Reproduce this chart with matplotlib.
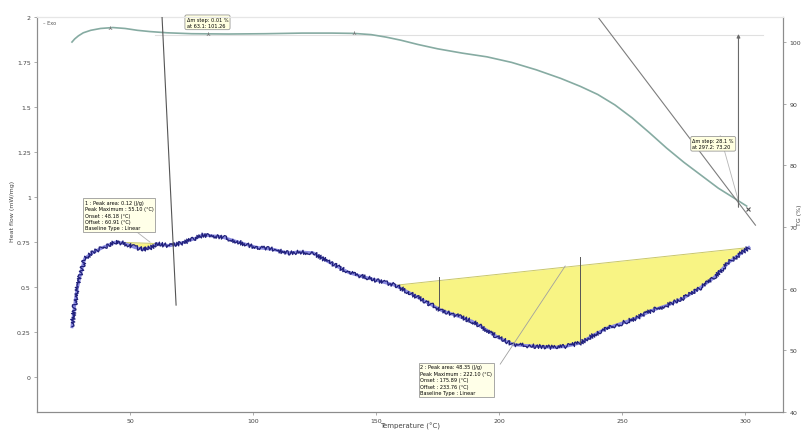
import numpy as np
import matplotlib
matplotlib.use("Agg")
import matplotlib.pyplot as plt

# DSC heat flow (left axis)
dsc_temp = [26.4, 27.5, 28.5, 30.0, 31.6, 34.6, 38.9, 44.1, 47.0, 49.2, 52.0, 55.6,
            58.5, 61.0, 66.0, 71.0, 76.4, 79.6, 83.0, 87.0, 94.0, 101.5, 108.0,
            114.0, 119.0, 124.4, 130.7, 139.0, 144.0, 149.6, 157.7, 166.0, 176.6,
            183.0, 189.0, 195.0, 199.6, 205.8, 211.0, 216.0, 222.0, 226.8, 233.0,
            238.0, 243.4, 250.0, 256.0, 262.0, 268.5, 275.0, 281.0, 287.0, 293.5,
            297.5, 301.4]
dsc_flow = [0.28, 0.40, 0.49, 0.58, 0.66, 0.69, 0.72, 0.75, 0.745, 0.735, 0.72, 0.71,
            0.72, 0.74, 0.73, 0.745, 0.77, 0.79, 0.785, 0.78, 0.75, 0.72, 0.71,
            0.69, 0.695, 0.69, 0.64, 0.58, 0.56, 0.54, 0.51, 0.45, 0.37,
            0.34, 0.31, 0.26, 0.22, 0.18, 0.175, 0.17, 0.165, 0.17, 0.19,
            0.23, 0.27, 0.30, 0.33, 0.37, 0.40, 0.44, 0.49, 0.55, 0.64,
            0.68, 0.72]

# TG mass curve (right axis)
tg_temp = [26.4, 27.5, 29.0, 31.0, 34.0, 38.0, 43.0, 48.0, 53.0, 58.0, 65.0, 75.0,
           90.0, 105.0, 120.0, 132.0, 141.0, 148.0, 154.0, 160.0, 167.0, 175.0,
           185.0, 195.0, 205.0, 215.0, 225.0, 233.0, 240.0, 247.0, 254.0, 261.0,
           268.0, 275.0, 282.0, 289.0, 295.0, 300.5]
tg_mass = [100.0, 100.5, 101.0, 101.5, 101.9, 102.2, 102.35, 102.2, 101.9, 101.7, 101.5, 101.35,
           101.3, 101.35, 101.45, 101.45, 101.4, 101.2, 100.8, 100.3, 99.6, 98.9,
           98.2, 97.6, 96.7, 95.5, 94.1, 92.8, 91.5, 89.8, 87.7, 85.3,
           82.8, 80.5, 78.4, 76.3, 74.8, 73.4]

# peak integration limits (temperature, heat flow) and markers
peak1_start, peak1_end = (48.0, 0.748), (61.0, 0.742)
peak2_start, peak2_end = (157.7, 0.51), (301.4, 0.72)
peak2_onset, peak2_offset = 175.6, 233.0
onset_line = [(63.0, 2.0), (68.7, 0.40)]
mass_step_temp, mass_step_top, mass_step_bottom = 297.2, 101.3, 73.2
tangent_line = [(240.2, 104.0), (304.1, 70.3)]

left_ticks = [0, 0.25, 0.5, 0.75, 1, 1.25, 1.5, 1.75, 2]
left_labels = ["0", "0.25", "0.5", "0.75", "1", "1.25", "1.5", "1.75", "2"]
right_ticks = [40, 50, 60, 70, 80, 90, 100]
x_ticks = [50, 100, 150, 200, 250, 300]

peak1_text = ("1 : Peak area: 0.12 (J/g)\nPeak Maximum : 55.10 (°C)\n"
              "Onset : 48.18 (°C)\nOffset : 60.91 (°C)\nBaseline Type : Linear")
peak2_text = ("2 : Peak area: 48.35 (J/g)\nPeak Maximum : 222.10 (°C)\n"
              "Onset : 175.89 (°C)\nOffset : 233.76 (°C)\nBaseline Type : Linear")
step1_text = "Δm step: 0.01 %\nat 63.1: 101.26"
step2_text = "Δm step: 28.1 %\nat 297.2: 73.20"

GRAY = "#8c8c8c"
plt.rcParams["font.family"] = ["DejaVu Sans"]

fig = plt.figure(figsize=(8.05, 4.31), dpi=100)
ax = fig.add_axes([0.046, 0.0418, 0.927, 0.916])
ax2 = ax.twinx()

ax.set_xlim(12.2, 315.4)
ax.set_ylim(-0.194, 2.0)
ax2.set_ylim(40.32, 104.03)

for a in (ax, ax2):
    for s in a.spines.values():
        s.set_color(GRAY)
        s.set_linewidth(0.8)
    a.spines["top"].set_color("#e6e6e6")
ax.set_zorder(ax2.get_zorder() + 1)
ax.patch.set_visible(False)

# DSC trace with baseline-filled peaks
t = np.array(dsc_temp)
f = np.array(dsc_flow)
for (t0, y0), (t1, y1) in [(peak1_start, peak1_end), (peak2_start, peak2_end)]:
    m = (t >= t0) & (t <= t1)
    tt = np.concatenate([[t0], t[m], [t1]])
    ff = np.interp(tt, t, f)
    base = y0 + (tt - t0) * (y1 - y0) / (t1 - t0)
    ax.fill_between(tt, base, ff, color="#f8f484", lw=0, zorder=1)
    ax.plot([t0, t1], [y0, y1], color="#c9c76a", lw=0.7, zorder=2)

ax.plot(dsc_temp, dsc_flow, color="#8a8ae0", lw=2.2, zorder=3)
noisy, = ax.plot(dsc_temp, dsc_flow, color="#20207a", lw=0.9, zorder=4)
noisy.set_sketch_params(scale=2.2, length=2.0, randomness=3.0)

# onset / offset markers and leader lines
ax.plot([peak2_onset, peak2_onset], [0.556, 0.39], color="#555555", lw=0.7, zorder=5)
ax.plot([peak2_offset, peak2_offset], [0.667, 0.19], color="#555555", lw=0.7, zorder=5)
ax.plot(*zip(*onset_line), color="#555555", lw=0.8, zorder=5)
ax.plot([43.9, 58.1], [0.90, 0.75], color="#b0b0b0", lw=0.6, zorder=5)
ax.plot([200.4, 226.8], [0.072, 0.617], color="#a0a0a0", lw=0.6, zorder=5)

box = dict(boxstyle="square,pad=0.35", fc="#ffffe8", ec="#9a9a9a", lw=0.6)
ax.text(31.5, 0.985, peak1_text, fontsize=3.6, va="top", ha="left",
        linespacing=1.35, bbox=box, zorder=6)
ax.text(168.0, 0.07, peak2_text, fontsize=3.6, va="top", ha="left",
        linespacing=1.35, bbox=box, zorder=6)

# TG curve, tangent and mass-loss step
ax2.plot(tg_temp, tg_mass, color="#86aba2", lw=1.2, zorder=2)
ax2.plot([60, 307.3], [101.2, 101.2], color="#e0e0e0", lw=0.8, zorder=1)
ax2.plot(*zip(*tangent_line), color="#7d7d7d", lw=0.8, zorder=3)
ax2.plot([289.8, 297.0], [84.8, 74.5], color="#b5b5b5", lw=0.6, zorder=3)
ax2.annotate("", xy=(mass_step_temp, mass_step_top), xytext=(mass_step_temp, mass_step_bottom),
             arrowprops=dict(arrowstyle="-|>", color="#6a6a6a", lw=0.8,
                             mutation_scale=5, shrinkA=0, shrinkB=0))
ax2.plot([301.2], [72.9], marker="x", ms=3.5, mew=0.8, color="#555555")
ax2.plot([41.9, 81.5, 141.0], [102.3, 101.3, 101.4], ls="none", marker="2",
         ms=3, mew=0.6, color="#777777")

rbox = dict(boxstyle="round,pad=0.35", fc="#ffffe0", ec="#9a9a9a", lw=0.6)
ax2.text(73.0, 103.2, step1_text, fontsize=3.6, va="center", ha="left",
         linespacing=1.3, bbox=rbox, zorder=6)
ax2.text(278.5, 83.5, step2_text, fontsize=3.6, va="center", ha="left",
         linespacing=1.3, bbox=rbox, zorder=6)

ax.text(14.5, 1.97, "– Exo", fontsize=3.6, color="#555555", va="center")

# axes, ticks and labels
ax.set_xticks(x_ticks)
ax.set_yticks(left_ticks)
ax.set_yticklabels(left_labels)
ax2.set_yticks(right_ticks)
ax.tick_params(axis="both", labelsize=4.5, length=2, width=0.5, color=GRAY,
               labelcolor="#444444", pad=2.5)
ax2.tick_params(axis="y", labelsize=4.5, length=2, width=0.5, color=GRAY,
                labelcolor="#444444", pad=2.5)

ax.set_xlabel("Temperature (°C)", fontsize=5, color="#444444")
ax.xaxis.set_label_coords(0.5, -0.026)
ax.set_ylabel("Heat flow (mW/mg)", fontsize=4.5, color="#444444")
ax.yaxis.set_label_coords(-0.03, 0.51)
ax2.set_ylabel("TG (%)", fontsize=4.5, color="#444444", rotation=90)
ax2.yaxis.set_label_coords(1.019, 0.50)

fig.savefig("out.png", dpi=100)
